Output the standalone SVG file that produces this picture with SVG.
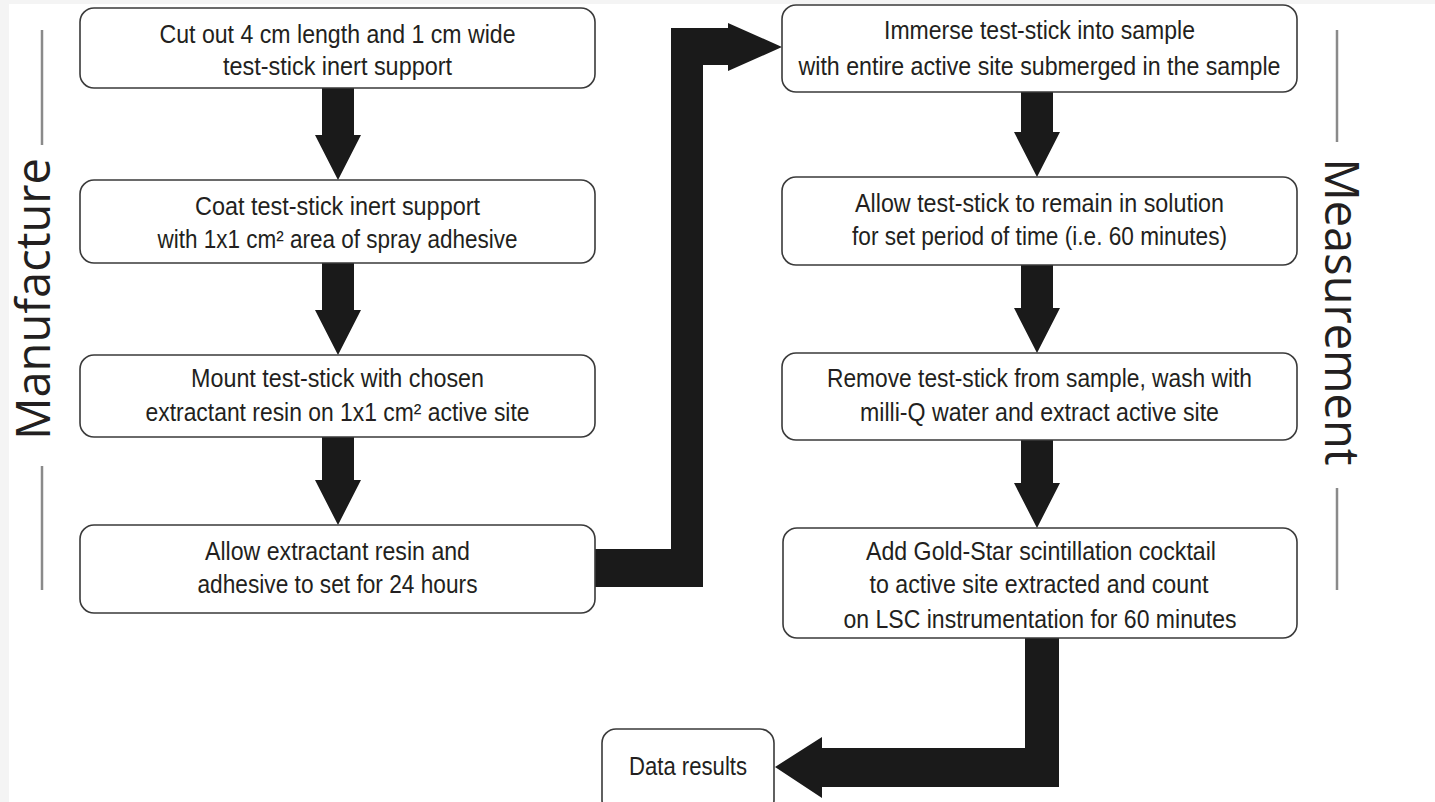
<svg xmlns="http://www.w3.org/2000/svg" width="1435" height="802" viewBox="0 0 1435 802">
<style>
.box{fill:#ffffff;stroke:#3a3a3a;stroke-width:1.6}
.t{font-family:"Liberation Sans",Arial,sans-serif;font-size:25px;fill:#231f20;text-anchor:middle}
.side{font-family:"Open Sans","Liberation Sans",sans-serif;font-size:47px;fill:#231f20;text-anchor:middle}
.sl{stroke:#8a8a8a;stroke-width:2.5;fill:none}
.arr{fill:#1a1a1a}
</style>
<rect x="0" y="0" width="1435" height="802" fill="#f4f4f4"/>
<rect x="9" y="4" width="1426" height="798" fill="#ffffff"/>

<g id="label-manufacture">
<line class="sl" x1="42" y1="30" x2="42" y2="145"/>
<line class="sl" x1="42" y1="466" x2="42" y2="590"/>
<text class="side" transform="translate(50,299) rotate(-90)" x="0" y="0">Manufacture</text>
</g>
<g id="label-measurement">
<line class="sl" x1="1337" y1="30" x2="1337" y2="142"/>
<line class="sl" x1="1337" y1="488" x2="1337" y2="590"/>
<text class="side" transform="translate(1325,312) rotate(90)" x="0" y="0">Measurement</text>
</g>

<g id="connectors">
<path class="arr" d="M322,88 H354 V135 H361 L338,180 L315,135 H322 Z"/>
<path class="arr" d="M322,263 H354 V310 H361 L338,355 L315,310 H322 Z"/>
<path class="arr" d="M322,437 H354 V480 H361 L338,525 L315,480 H322 Z"/>
<path class="arr" d="M1021,92 H1053 V132 H1060 L1037,177 L1014,132 H1021 Z"/>
<path class="arr" d="M1021,265 H1053 V308 H1060 L1037,353 L1014,308 H1021 Z"/>
<path class="arr" d="M1021,440 H1053 V483 H1060 L1037,528 L1014,483 H1021 Z"/>
<path class="arr" d="M595,549 H671 V28 H728 V23 L782,47 L728,71 V65 H703 V587 H595 Z"/>
<path class="arr" d="M1025,638 H1059 V787 H822 V798 L775,767 L822,737 V748 H1025 Z"/>
</g>

<g id="step1">
<rect class="box" x="80" y="8" width="515" height="80" rx="14"/>
<text class="t" x="337.5" y="43" textLength="356" lengthAdjust="spacingAndGlyphs">Cut out 4 cm length and 1 cm wide</text>
<text class="t" x="337.5" y="75" textLength="229" lengthAdjust="spacingAndGlyphs">test-stick inert support</text>
</g>
<g id="step2">
<rect class="box" x="80" y="180" width="515" height="83" rx="14"/>
<text class="t" x="337.5" y="215" textLength="285" lengthAdjust="spacingAndGlyphs">Coat test-stick inert support</text>
<text class="t" x="337.5" y="248" textLength="360" lengthAdjust="spacingAndGlyphs">with 1x1 cm² area of spray adhesive</text>
</g>
<g id="step3">
<rect class="box" x="80" y="355" width="515" height="82" rx="14"/>
<text class="t" x="337.5" y="387" textLength="293" lengthAdjust="spacingAndGlyphs">Mount test-stick with chosen</text>
<text class="t" x="337.5" y="421" textLength="384" lengthAdjust="spacingAndGlyphs">extractant resin on 1x1 cm² active site</text>
</g>
<g id="step4">
<rect class="box" x="80" y="525" width="515" height="88" rx="14"/>
<text class="t" x="337.5" y="560" textLength="265" lengthAdjust="spacingAndGlyphs">Allow extractant resin and</text>
<text class="t" x="337.5" y="593" textLength="280" lengthAdjust="spacingAndGlyphs">adhesive to set for 24 hours</text>
</g>

<g id="step5">
<rect class="box" x="782" y="5" width="515" height="87" rx="14"/>
<text class="t" x="1039.5" y="39" textLength="311" lengthAdjust="spacingAndGlyphs">Immerse test-stick into sample</text>
<text class="t" x="1039.5" y="75" textLength="482" lengthAdjust="spacingAndGlyphs">with entire active site submerged in the sample</text>
</g>
<g id="step6">
<rect class="box" x="782" y="177" width="515" height="88" rx="14"/>
<text class="t" x="1039.5" y="212" textLength="369" lengthAdjust="spacingAndGlyphs">Allow test-stick to remain in solution</text>
<text class="t" x="1039.5" y="245" textLength="375" lengthAdjust="spacingAndGlyphs">for set period of time (i.e. 60 minutes)</text>
</g>
<g id="step7">
<rect class="box" x="782" y="353" width="515" height="87" rx="14"/>
<text class="t" x="1039.5" y="387" textLength="425" lengthAdjust="spacingAndGlyphs">Remove test-stick from sample, wash with</text>
<text class="t" x="1039.5" y="421" textLength="359" lengthAdjust="spacingAndGlyphs">milli-Q water and extract active site</text>
</g>
<g id="step8">
<rect class="box" x="783" y="528" width="514" height="110" rx="14"/>
<text class="t" x="1041" y="560" textLength="350" lengthAdjust="spacingAndGlyphs">Add Gold-Star scintillation cocktail</text>
<text class="t" x="1039" y="593" textLength="339" lengthAdjust="spacingAndGlyphs">to active site extracted and count</text>
<text class="t" x="1040" y="628" textLength="393" lengthAdjust="spacingAndGlyphs">on LSC instrumentation for 60 minutes</text>
</g>
<g id="result">
<rect class="box" x="602" y="729" width="172" height="85" rx="14"/>
<text class="t" x="688" y="775" textLength="118" lengthAdjust="spacingAndGlyphs">Data results</text>
</g>
</svg>
